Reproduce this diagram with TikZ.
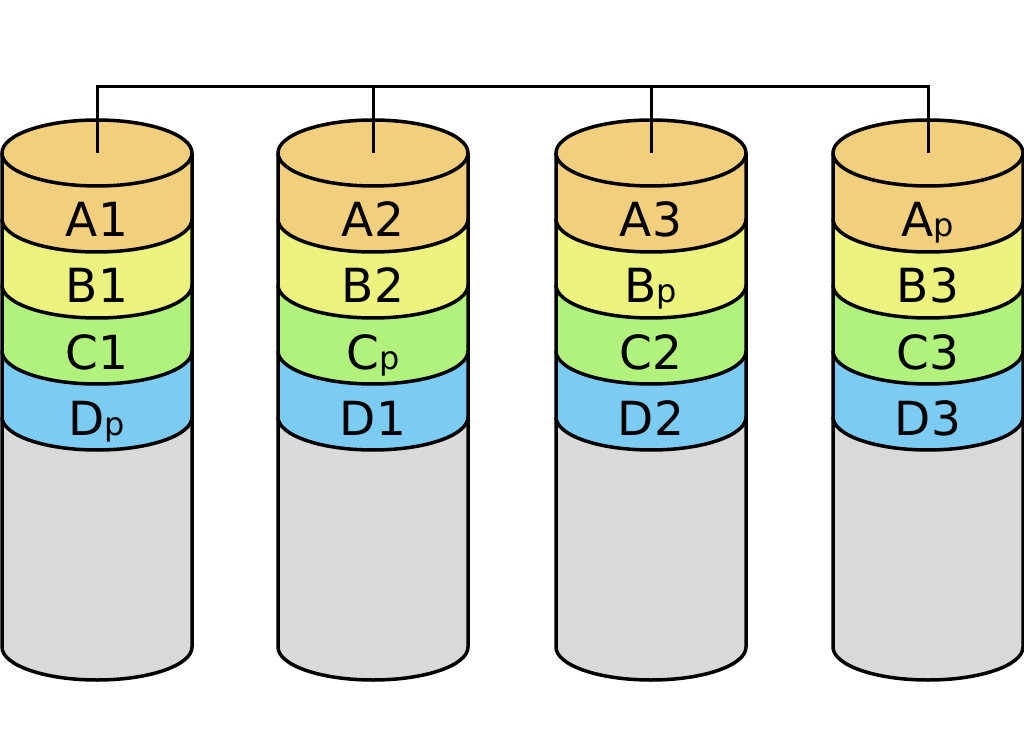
\documentclass[tikz,border=0pt]{standalone}
\usepackage{fontspec}
\setmainfont{DejaVu Sans}
\usetikzlibrary{positioning, calc}
\definecolor{stripA}{RGB}{242, 207, 124}
\definecolor{stripB}{RGB}{236, 242, 126}
\definecolor{stripC}{RGB}{177, 242, 124}
\definecolor{stripD}{RGB}{124, 203, 242}
\definecolor{diskgray}{RGB}{217, 217, 217}
\newcommand{\pblock}[1]{#1{\fontsize{32}{32}\selectfont p}}

\begin{document}
\begin{tikzpicture}[x=1pt, y=1pt, line width=3.5pt, line join=round,
  lbl/.style={anchor=base, inner sep=0pt, font=\fontsize{47}{50}\selectfont},
  rim/.style={x radius=95, y radius=33}]
  \useasboundingbox (0,0) rectangle (1024,753);
  \coordinate (bus) at (0,666);

  % one disk per column, stripes painted bottom up
  \foreach \cx/\n/\la/\lb/\lc/\ld in {97/1/A1/B1/C1/\pblock{D},
                                       373/2/A2/B2/\pblock{C}/D1,
                                       651/3/A3/\pblock{B}/C2/D2,
                                       928/4/\pblock{A}/B3/C3/D3} {
    \fill[diskgray] (\cx-95,600) -- (\cx-95,106)
      arc[start angle=180, end angle=360, rim] -- (\cx+95,600) -- cycle;
    \foreach \k/\col in {4/stripD, 3/stripC, 2/stripB, 1/stripA} {
      \fill[\col] (\cx-95,600) -- (\cx-95,600-66*\k)
        arc[start angle=180, end angle=360, rim] -- (\cx+95,600) -- cycle;
      \draw (\cx-95,600-66*\k) arc[start angle=180, end angle=360, rim];
    }
    \draw (\cx-95,600) -- (\cx-95,106)
      arc[start angle=180, end angle=360, rim] -- (\cx+95,600);
    \filldraw[fill=stripA] (\cx,600) ellipse[rim];
    \coordinate (top\n) at (\cx,600);

    \node[lbl] (d\n-a) at (\cx,516) {\la};
    \node[lbl] (d\n-b) at (\cx,450) {\lb};
    \node[lbl] (d\n-c) at (\cx,384) {\lc};
    \node[lbl] (d\n-d) at (\cx,318) {\ld};
  }

  % controller bus
  \draw[line width=3pt, line join=miter] (top1) -- (top1 |- bus) -- (top4 |- bus) -- (top4);
  \draw[line width=3pt] (top2) -- (top2 |- bus);
  \draw[line width=3pt] (top3) -- (top3 |- bus);
\end{tikzpicture}
\end{document}
